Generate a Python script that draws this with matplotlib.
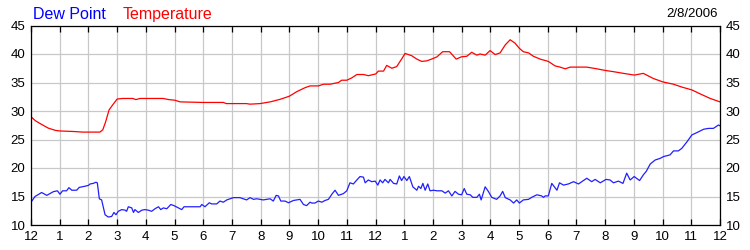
import matplotlib
matplotlib.use("Agg")
import matplotlib.pyplot as plt

plt.rcParams['font.family'] = ['Liberation Sans', 'DejaVu Sans']

# Temperature (hours since midnight, degrees)
temp_hours = [0.0, 0.15, 0.35, 0.6, 0.85, 1.0, 1.5, 1.8, 2.0, 2.4, 2.5, 2.6, 2.72, 2.85, 3.0, 3.2,
              3.55, 3.65, 3.8, 4.3, 4.6, 4.8, 5.0, 5.2, 6.0, 6.7, 6.8, 7.5,
              7.63, 7.98, 8.33, 8.68, 9.0, 9.26, 9.55, 9.72, 10.01, 10.19, 10.42, 10.71, 10.82,
              11.0, 11.17, 11.35, 11.58, 11.75, 12.01, 12.10, 12.28, 12.39, 12.57, 12.74, 12.92,
              13.03, 13.26, 13.44, 13.61, 13.79, 14.0, 14.14, 14.34, 14.58, 14.81, 14.99, 15.18,
              15.35, 15.53, 15.64, 15.82, 15.99, 16.17, 16.34, 16.52, 16.69, 16.86, 17.01, 17.15,
              17.33, 17.50, 17.74, 18.02, 18.26, 18.43, 18.61, 18.78, 19.01, 19.36, 19.71, 20.02,
              20.29, 20.64, 21.02, 21.33, 21.68, 22.01, 22.38, 22.67, 23.02, 23.31, 23.66, 24.0]
temperature = [29.0, 28.3, 27.7, 27.0, 26.6, 26.5, 26.4, 26.3, 26.3, 26.3, 26.7, 28.1, 30.2, 31.1, 32.1, 32.2,
               32.2, 32.0, 32.2, 32.2, 32.2, 32.0, 31.9, 31.6, 31.5, 31.5, 31.3, 31.3,
               31.2, 31.3, 31.6, 32.05, 32.6, 33.4, 34.1, 34.4, 34.4, 34.7, 34.7, 35.0, 35.4,
               35.4, 35.8, 36.4, 36.4, 36.2, 36.5, 37.0, 37.0, 38.0, 37.5, 37.8, 39.2,
               40.1, 39.7, 39.1, 38.7, 38.8, 39.2, 39.5, 40.4, 40.4, 39.1, 39.5, 39.6,
               40.3, 39.8, 40.0, 39.8, 40.6, 39.9, 40.2, 41.6, 42.5, 41.9, 41.0, 40.4,
               40.2, 39.6, 39.1, 38.7, 37.9, 37.7, 37.4, 37.7, 37.7, 37.7, 37.4, 37.1,
               36.9, 36.6, 36.3, 36.6, 35.7, 35.1, 34.7, 34.2, 33.7, 33.0, 32.2, 31.6]

# Dew point
dew_hours = [0.0, 0.14, 0.37, 0.55, 0.78, 0.92, 1.01, 1.10, 1.24, 1.32, 1.42, 1.59, 1.68, 1.88, 2.0,
             2.06, 2.17, 2.26, 2.31, 2.38, 2.46, 2.58, 2.69, 2.81, 2.89, 2.96, 3.04, 3.16, 3.28,
             3.33, 3.39, 3.51, 3.57, 3.62, 3.74, 3.86, 3.97, 4.09, 4.20, 4.32, 4.44, 4.52, 4.61,
             4.73, 4.87, 4.98, 5.13, 5.25, 5.33, 5.54, 5.89, 5.95, 6.06, 6.21, 6.29, 6.47, 6.58,
             6.70, 6.82, 6.93, 7.05, 7.28, 7.51, 7.63, 7.75, 7.86, 8.09, 8.33, 8.44, 8.54, 8.62,
             8.70, 8.85, 8.97, 9.14, 9.26, 9.37, 9.49, 9.60, 9.72, 9.78, 9.89, 10.01, 10.13, 10.24,
             10.36, 10.48, 10.59, 10.71, 10.88, 11.0, 11.11, 11.23, 11.35, 11.46, 11.58, 11.64,
             11.75, 11.87, 11.99, 12.08, 12.16, 12.25, 12.33, 12.45, 12.51, 12.63, 12.74, 12.83,
             12.91, 12.99, 13.09, 13.18, 13.30, 13.44, 13.50, 13.58, 13.65, 13.73, 13.82, 13.90,
             14.02, 14.14, 14.31, 14.43, 14.54, 14.66, 14.77, 14.89, 15.0, 15.09, 15.18, 15.30,
             15.39, 15.53, 15.62, 15.68, 15.82, 15.93, 16.05, 16.22, 16.34, 16.43, 16.52, 16.69,
             16.81, 16.92, 17.01, 17.15, 17.33, 17.44, 17.62, 17.79, 17.85, 17.91, 18.02, 18.14,
             18.32, 18.41, 18.55, 18.72, 18.90, 19.07, 19.36, 19.53, 19.65, 19.83, 20.03, 20.17,
             20.29, 20.46, 20.62, 20.75, 20.87, 21.01, 21.20, 21.33, 21.43, 21.57, 21.74, 21.92,
             22.03, 22.26, 22.38, 22.55, 22.67, 22.85, 23.02, 23.19, 23.43, 23.60, 23.77, 23.95, 24.0]
dew_point = [14.0, 15.0, 15.7, 15.2, 15.85, 16.0, 15.4, 16.0, 16.0, 16.55, 16.1, 16.1, 16.6, 16.8, 16.95,
             17.2, 17.3, 17.5, 17.4, 14.6, 14.4, 11.8, 11.4, 11.5, 12.2, 11.8, 12.4, 12.7, 12.6,
             12.4, 13.2, 13.0, 12.2, 12.7, 12.2, 12.6, 12.7, 12.6, 12.4, 12.85, 13.2, 12.7, 13.0,
             12.85, 13.6, 13.4, 13.0, 12.7, 13.2, 13.2, 13.2, 13.6, 13.2, 13.9, 13.7, 13.7, 14.2,
             14.0, 14.4, 14.6, 14.8, 14.8, 14.4, 14.8, 14.5, 14.6, 14.4, 14.6, 14.2, 15.2, 15.1,
             14.2, 14.2, 13.9, 14.3, 14.4, 14.5, 13.6, 13.4, 14.0, 13.85, 13.85, 14.2, 14.0, 14.3,
             14.5, 15.4, 16.1, 15.2, 15.5, 16.0, 17.4, 17.2, 17.9, 18.5, 18.4, 17.4,
             17.9, 17.6, 17.7, 17.0, 17.9, 17.4, 18.0, 17.4, 18.0, 17.3, 17.2, 18.6,
             17.8, 18.5, 17.8, 18.5, 16.7, 16.1, 16.8, 16.4, 17.3, 16.1, 17.2, 16.0,
             16.1, 16.0, 16.0, 15.6, 16.0, 15.1, 15.9, 15.4, 15.3, 16.4, 15.4, 15.3,
             14.85, 14.85, 15.4, 14.4, 16.7, 15.9, 14.85, 14.5, 15.1, 15.9, 14.8, 14.4,
             13.85, 14.4, 13.85, 14.4, 14.5, 14.85, 15.3, 15.1, 14.85, 15.1, 15.1, 17.3,
             16.1, 17.4, 17.0, 17.2, 17.6, 17.2, 18.2, 17.6, 18.0, 17.4, 18.0, 17.9,
             17.4, 17.7, 17.3, 19.1, 17.9, 18.5, 17.8, 18.8, 19.4, 20.7, 21.4, 21.7,
             22.0, 22.3, 23.0, 23.0, 23.45, 24.6, 25.8, 26.2, 26.8, 26.95, 26.95, 27.55, 27.4]

x_tick_labels = ['12', '1', '2', '3', '4', '5', '6', '7', '8', '9', '10', '11',
                 '12', '1', '2', '3', '4', '5', '6', '7', '8', '9', '10', '11', '12']
y_ticks = [10, 15, 20, 25, 30, 35, 40, 45]
date_label = '2/8/2006'

fig = plt.figure(figsize=(7.5, 2.5), dpi=100)
ax = fig.add_axes([31 / 750, 1 - 225 / 250, 689 / 750, 199.5 / 250])

ax.plot(temp_hours, temperature, color='#ff0000', lw=0.9)
ax.plot(dew_hours, dew_point, color='#2020ff', lw=0.9)

ax.set_xlim(0, 24)
ax.set_ylim(10, 45)
ax.set_xticks(range(25))
ax.set_xticklabels(x_tick_labels, fontsize=9.5)
ax.set_yticks(y_ticks)
ax.set_yticklabels([str(v) for v in y_ticks], fontsize=9.5)
ax.grid(True, color='#c8c8c8', lw=0.9)
ax.set_axisbelow(True)
ax.tick_params(axis='x', direction='in', length=4, width=0.9, top=True, bottom=True, pad=4)
ax.tick_params(axis='y', length=0, left=True, right=True, labelleft=True, labelright=True, pad=4)
for s in ax.spines.values():
    s.set_color('black')
    s.set_linewidth(0.9)

fig.text(33 / 750, 1 - 19 / 250, 'Dew Point', color='#0000ff', fontsize=11.5, va='baseline')
fig.text(123 / 750, 1 - 19 / 250, 'Temperature', color='#ff0000', fontsize=11.5, va='baseline')
fig.text(718 / 750, 1 - 17 / 250, date_label, color='black', fontsize=9.5, ha='right', va='baseline')

fig.savefig('out.png', dpi=100, facecolor='white')
